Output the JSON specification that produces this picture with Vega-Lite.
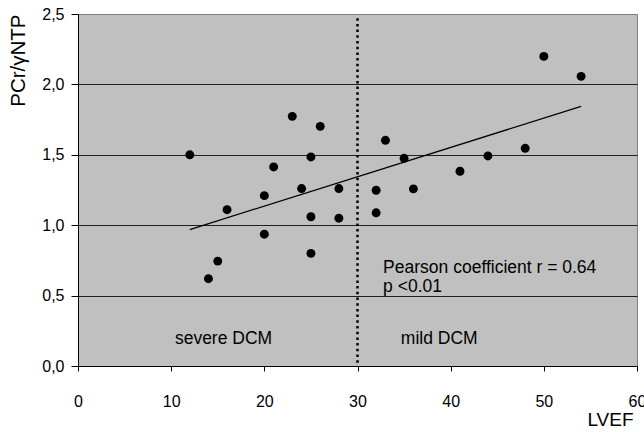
{
  "$schema": "https://vega.github.io/schema/vega-lite/v6.json",
  "width": 559,
  "height": 352,
  "autosize": {"type": "none"},
  "padding": {"left": 78, "top": 14, "right": 7, "bottom": 66},
  "background": "white",
  "config": {
    "font": "Liberation Sans",
    "view": {"fill": "#c0c0c0", "stroke": "#808080", "strokeWidth": 1},
    "axis": {"labelFont": "Liberation Sans", "titleFont": "Liberation Sans", "labelColor": "black", "titleColor": "black", "domainColor": "black", "tickColor": "black", "labelFontSize": 16, "titleFontSize": 19, "titleFontWeight": "normal"}
  },
  "datasets": {
    "points": [
      {"lvef": 12, "ratio": 1.50},
      {"lvef": 14, "ratio": 0.62},
      {"lvef": 15, "ratio": 0.745},
      {"lvef": 16, "ratio": 1.11},
      {"lvef": 20, "ratio": 1.21},
      {"lvef": 20, "ratio": 0.936},
      {"lvef": 21, "ratio": 1.414},
      {"lvef": 23, "ratio": 1.773},
      {"lvef": 24, "ratio": 1.26},
      {"lvef": 25, "ratio": 1.485},
      {"lvef": 25, "ratio": 1.06},
      {"lvef": 25, "ratio": 0.80},
      {"lvef": 26, "ratio": 1.702},
      {"lvef": 28, "ratio": 1.26},
      {"lvef": 28, "ratio": 1.05},
      {"lvef": 32, "ratio": 1.248},
      {"lvef": 32, "ratio": 1.088},
      {"lvef": 33, "ratio": 1.603},
      {"lvef": 35, "ratio": 1.475},
      {"lvef": 36, "ratio": 1.258},
      {"lvef": 41, "ratio": 1.383},
      {"lvef": 44, "ratio": 1.492},
      {"lvef": 48, "ratio": 1.546},
      {"lvef": 50, "ratio": 2.199},
      {"lvef": 54, "ratio": 2.057}
    ],
    "trend": [
      {"lvef": 12, "ratio": 0.969},
      {"lvef": 54, "ratio": 1.844}
    ],
    "divider": [{"lvef": 30}],
    "labels": [
      {"lvef": 32.75, "ratio": 0.662, "text": "Pearson coefficient r = 0.64"},
      {"lvef": 32.75, "ratio": 0.523, "text": "p <0.01"},
      {"lvef": 10.4, "ratio": 0.159, "text": "severe DCM"},
      {"lvef": 34.65, "ratio": 0.159, "text": "mild DCM"}
    ]
  },
  "layer": [
    {
      "data": {"name": "divider"},
      "mark": {"type": "rule", "color": "black", "strokeWidth": 2.5, "strokeDash": [2.5, 3.2]},
      "encoding": {
        "x": {"field": "lvef", "type": "quantitative", "scale": {"domain": [0, 60], "nice": false},
          "axis": {"values": [0, 10, 20, 30, 40, 50, 60], "grid": false, "tickSize": 5, "labelPadding": 22, "labelFlush": false, "title": "LVEF", "titleAnchor": "end", "titleAlign": "right", "titleBaseline": "alphabetic", "titleX": 555, "titleY": 59}},
        "y": {"datum": 2.47, "type": "quantitative"},
        "y2": {"datum": 0.02}
      }
    },
    {
      "data": {"name": "trend"},
      "mark": {"type": "line", "color": "black", "strokeWidth": 1.2},
      "encoding": {
        "x": {"field": "lvef", "type": "quantitative"},
        "y": {"field": "ratio", "type": "quantitative", "scale": {"domain": [0, 2.5], "nice": false},
          "axis": {"values": [0, 0.5, 1, 1.5, 2, 2.5], "labelExpr": "replace(format(datum.value, '.1f'), '.', ',')", "tickSize": 7, "labelPadding": 7, "labelFlush": false, "grid": true,
            "gridColor": {"condition": {"test": "datum.value == 0 || datum.value == 2.5", "value": "#808080"}, "value": "#202020"},
            "gridOpacity": 1, "gridWidth": 1,
            "title": "PCr/γNTP", "titleFontSize": 20.5, "titleAnchor": "end", "titleAngle": -90, "titleBaseline": "alphabetic", "titleX": -54, "titleY": 0, "titleAlign": "right"}}
      }
    },
    {
      "data": {"name": "points"},
      "mark": {"type": "point", "filled": true, "color": "black", "opacity": 1, "size": 80},
      "encoding": {
        "x": {"field": "lvef", "type": "quantitative"},
        "y": {"field": "ratio", "type": "quantitative"}
      }
    },
    {
      "data": {"name": "labels"},
      "mark": {"type": "text", "align": "left", "baseline": "alphabetic", "fontSize": 17.5, "color": "black", "font": "Liberation Sans"},
      "encoding": {
        "x": {"field": "lvef", "type": "quantitative"},
        "y": {"field": "ratio", "type": "quantitative"},
        "text": {"field": "text"}
      }
    }
  ]
}
